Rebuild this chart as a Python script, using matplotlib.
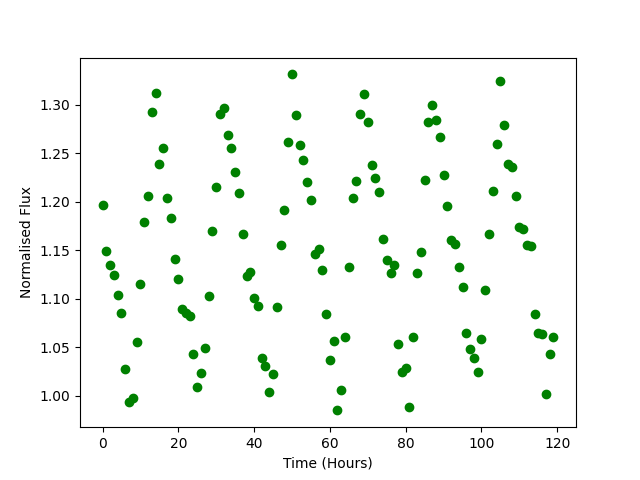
import matplotlib
matplotlib.use("Agg")
import matplotlib.pyplot as plt
import numpy as np

hours = np.arange(120)
flux = [1.197, 1.149, 1.135, 1.124, 1.104, 1.085, 1.028, 0.994, 0.998, 1.055,
        1.115, 1.179, 1.206, 1.292, 1.312, 1.239, 1.255, 1.204, 1.183, 1.141,
        1.120, 1.089, 1.085, 1.082, 1.043, 1.009, 1.023, 1.049, 1.103, 1.170,
        1.215, 1.290, 1.296, 1.269, 1.255, 1.231, 1.209, 1.167, 1.123, 1.128,
        1.101, 1.092, 1.039, 1.031, 1.004, 1.022, 1.091, 1.155, 1.191, 1.261,
        1.331, 1.289, 1.258, 1.243, 1.220, 1.202, 1.146, 1.151, 1.130, 1.084,
        1.037, 1.056, 0.985, 1.006, 1.061, 1.133, 1.204, 1.221, 1.290, 1.311,
        1.282, 1.238, 1.224, 1.210, 1.162, 1.140, 1.127, 1.135, 1.053, 1.025,
        1.029, 0.988, 1.061, 1.126, 1.148, 1.222, 1.282, 1.300, 1.284, 1.267,
        1.227, 1.195, 1.160, 1.156, 1.133, 1.112, 1.065, 1.048, 1.039, 1.025,
        1.059, 1.109, 1.167, 1.211, 1.259, 1.324, 1.279, 1.239, 1.236, 1.206,
        1.174, 1.172, 1.155, 1.154, 1.084, 1.065, 1.064, 1.002, 1.043, 1.061]

fig, ax = plt.subplots(figsize=(6.4, 4.8), dpi=100)
ax.plot(hours, flux, 'o', color='green')
ax.set_xlabel('Time (Hours)')
ax.set_ylabel('Normalised Flux')
fig.savefig('out.png')
